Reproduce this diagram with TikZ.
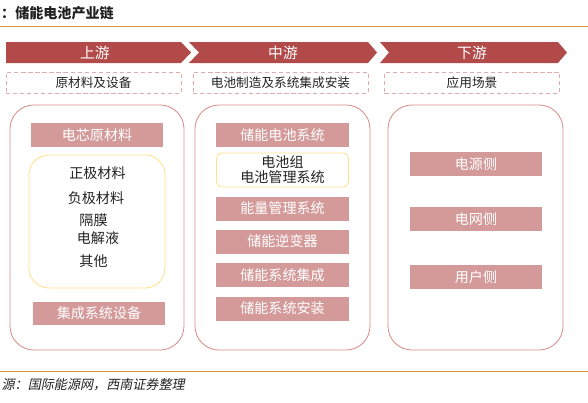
\documentclass[tikz,border=0pt]{standalone}
\usepackage{fontspec}
\setmainfont{Noto Sans CJK SC}
\newfontfamily\srcfont[FakeSlant=0.2]{Noto Sans CJK SC}
\usetikzlibrary{positioning}
\definecolor{chainred}{RGB}{178,74,74}
\definecolor{itempink}{RGB}{212,154,154}
\definecolor{framepink}{RGB}{218,140,140}
\definecolor{dashpink}{RGB}{226,172,172}
\definecolor{groupyellow}{RGB}{255,224,140}
\definecolor{ruleorange}{RGB}{214,150,64}
\definecolor{textgrey}{RGB}{34,34,34}

\tikzset{
  stagelabel/.style={text=white, font=\fontsize{10.5}{12}\selectfont},
  scopebox/.style={draw=dashpink, dash pattern=on 3pt off 2pt, minimum width=4.375cm, minimum height=0.525cm, font=\fontsize{9}{10}\selectfont, text=textgrey, inner sep=0pt},
  columnbox/.style={draw=framepink, line width=0.6pt, rounded corners=0.6cm, minimum width=4.375cm, minimum height=6.125cm},
  itembox/.style={fill=itempink, text=white, minimum width=3.3cm, minimum height=0.6cm, font=\fontsize{10}{11}\selectfont, inner sep=0pt},
  groupbox/.style={draw=groupyellow, line width=0.6pt, minimum width=3.3cm},
  listtext/.style={text=textgrey, font=\fontsize{10}{11}\selectfont, inner sep=0pt},
}

\begin{document}
\begin{tikzpicture}[x=0.025cm, y=-0.025cm]
  \useasboundingbox (0,0) rectangle (588,403);

  %% Title and rules
  \node[anchor=east, text=textgrey, font=\fontsize{10}{12}\selectfont\bfseries, inner sep=0pt] (title) at (114,13) {：储能电池产业链};
  \draw[ruleorange, line width=0.7pt] (0,26) -- (588,26);
  \draw[ruleorange, line width=0.7pt] (0,371) -- (588,371);
  \node[anchor=east, text=textgrey, font=\fontsize{9.3}{11}\srcfont, inner sep=0pt] (source) at (185,385) {源：国际能源网，西南证券整理};

  %% Chevrons
  \fill[chainred] (6,42) -- (181,42) -- (191,52.5) -- (181,63) -- (6,63) -- cycle;
  \fill[chainred] (189,42) -- (368,42) -- (377,52.5) -- (368,63) -- (189,63) -- (199,52.5) -- cycle;
  \fill[chainred] (380,42) -- (558,42) -- (567,52.5) -- (558,63) -- (380,63) -- (389,52.5) -- cycle;
  \node[stagelabel] (up)   at (95,53)  {上游};
  \node[stagelabel] (mid)  at (283,53) {中游};
  \node[stagelabel] (down) at (472,53) {下游};

  %% Dashed scope boxes
  \node[scopebox] (upscope)   at (93.5,82.5)  {原材料及设备};
  \node[scopebox] (midscope)  at (280.5,82.5) {电池制造及系统集成安装};
  \node[scopebox] (downscope) at (472,82.5)   {应用场景};

  %% Column frames
  \node[columnbox, minimum width=4.35cm] (upcol) at (97,227.5) {};
  \node[columnbox] (midcol)  at (282.5,227.5) {};
  \node[columnbox] (downcol) at (475.5,227.5) {};

  %% Upstream
  \node[itembox] (cellmat) at (97,135) {电芯原材料};
  \node[groupbox, rounded corners=0.5cm, minimum width=3.4cm, minimum height=3.325cm] (matgroup) at (97,221.5) {};
  \node[listtext] (cathode)     at (97.5,173) {正极材料};
  \node[listtext] (anode)       at (96,198)   {负极材料};
  \node[listtext] (separator)   at (93.5,220) {隔膜};
  \node[listtext] (electrolyte) at (98,238)   {电解液};
  \node[listtext] (others)      at (93.5,261) {其他};
  \node[itembox, minimum height=0.58cm] (equip) at (99,313.5) {集成系统设备};

  %% Midstream
  \node[itembox] (batsys) at (282.5,135) {储能电池系统};
  \node[groupbox, rounded corners=0.15cm, minimum height=0.85cm, align=center, text=textgrey, font=\fontsize{10}{10.5}\selectfont, inner sep=0pt] (bms) at (282.5,170) {电池组\\电池管理系统};
  \node[itembox] (ems)   at (282.5,208.5) {能量管理系统};
  \node[itembox] (pcs)   at (282.5,241.5) {储能逆变器};
  \node[itembox] (integ) at (282.5,275)   {储能系统集成};
  \node[itembox] (inst)  at (282.5,308.5) {储能系统安装};

  %% Downstream
  \node[itembox] (gen)  at (476,164) {电源侧};
  \node[itembox] (grid) at (476,219) {电网侧};
  \node[itembox] (user) at (476,277) {用户侧};
\end{tikzpicture}
\end{document}
